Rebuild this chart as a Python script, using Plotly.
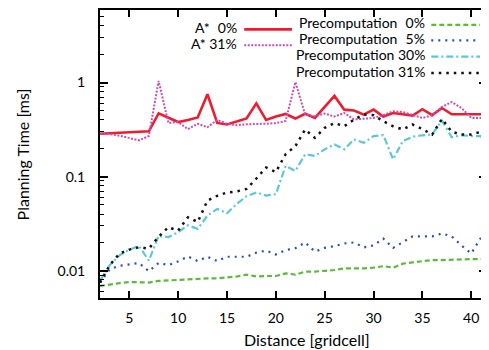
import math
import plotly.graph_objects as go

# ---------------- data ----------------
distance = [2, 3, 4, 5, 6, 7, 8, 9, 10, 11, 12, 13, 14, 15, 16, 17, 18, 19, 20, 21,
            22, 23, 24, 25, 26, 27, 28, 29, 30, 31, 32, 33, 34, 35, 36, 37, 38, 39, 40, 41, 42]

astar_0 = [0.285, 0.288, 0.291, 0.294, 0.298, 0.303, 0.47, 0.42, 0.38, 0.40, 0.425, 0.75,
           0.372, 0.358, 0.385, 0.415, 0.60, 0.40, 0.435, 0.463, 0.414, 0.466, 0.42, 0.55,
           0.72, 0.515, 0.505, 0.456, 0.515, 0.435, 0.474, 0.46, 0.445, 0.52, 0.45, 0.536,
           0.46, 0.46, 0.46, 0.46, 0.46]

astar_31 = [0.285, 0.283, 0.272, 0.255, 0.243, 0.27, 1.04, 0.372, 0.38, 0.32, 0.364, 0.335,
            0.40, 0.364, 0.352, 0.36, 0.36, 0.365, 0.37, 0.39, 1.01, 0.456, 0.438, 0.468,
            0.435, 0.474, 0.405, 0.41, 0.42, 0.45, 0.494, 0.486, 0.45, 0.42, 0.449, 0.55,
            0.62, 0.536, 0.42, 0.42, 0.42]

pre_0 = [0.0069, 0.0072, 0.0074, 0.0076, 0.0075, 0.0075, 0.0078, 0.0079, 0.0081, 0.0082,
         0.0083, 0.0083, 0.0083, 0.0085, 0.0087, 0.0091, 0.0087, 0.0088, 0.0088, 0.0094,
         0.0091, 0.0098, 0.0098, 0.0100, 0.0102, 0.0106, 0.0106, 0.0106, 0.0108, 0.0112,
         0.0108, 0.0119, 0.0123, 0.0126, 0.0130, 0.0130, 0.0130, 0.0132, 0.0133, 0.0133,
         0.0126]

pre_5 = [0.0075, 0.0104, 0.0113, 0.0118, 0.0121, 0.0099, 0.0121, 0.0115, 0.0126, 0.0142,
         0.0127, 0.0141, 0.0127, 0.0141, 0.0141, 0.0141, 0.0156, 0.0164, 0.0149, 0.0166,
         0.0174, 0.0200, 0.0160, 0.0175, 0.0183, 0.0195, 0.0200, 0.0177, 0.0186, 0.0220,
         0.0175, 0.0203, 0.0232, 0.0232, 0.0232, 0.0249, 0.0232, 0.0186, 0.0153, 0.0225,
         0.0180]

pre_30 = [0.0078, 0.0115, 0.0146, 0.0168, 0.0183, 0.0128, 0.0235, 0.0228, 0.0257, 0.0304,
          0.0279, 0.0386, 0.0454, 0.0408, 0.0513, 0.062, 0.068, 0.063, 0.065, 0.13,
          0.115, 0.173, 0.166, 0.195, 0.22, 0.195, 0.249, 0.229, 0.269, 0.276,
          0.153, 0.239, 0.265, 0.275, 0.28, 0.395, 0.262, 0.275, 0.27, 0.27,
          0.15]

pre_31 = [0.0075, 0.0115, 0.0152, 0.0168, 0.0178, 0.0172, 0.023, 0.029, 0.0267, 0.037,
          0.033, 0.0556, 0.0626, 0.0679, 0.0696, 0.074, 0.0955, 0.125, 0.112, 0.173,
          0.211, 0.317, 0.258, 0.33, 0.37, 0.343, 0.404, 0.456, 0.45, 0.388,
          0.343, 0.317, 0.358, 0.32, 0.28, 0.41, 0.30, 0.28, 0.28, 0.30,
          0.50]

x_tick_vals = [5, 10, 15, 20, 25, 30, 35, 40]
y_tick_vals = [0.01, 0.1, 1]
y_tick_text = ["0.01", "0.1", "1"]

# ---------------- geometry ----------------
# the page body adds an 8px margin, so the figure is 8px smaller and
# all reference pixel positions are shifted by OFF
OFF = 8
W, H = 489 - OFF, 350 - OFF
ML, MR, MT, MB = 100 - OFF, 0, 0, 52
PW, PH = W - ML - MR, H - MT - MB
PX_PER_UNIT = 9.82      # x pixels per gridcell (from reference ticks)
PX_PER_DECADE = 94.8    # y pixels per decade (from reference ticks)
Y1_PAGE = 81            # page y of the "1" tick
FONT = "Lato"

x_range = [2, 2 + PW / PX_PER_UNIT]
top_page, bottom_page = MT + OFF, H - MB + OFF
y_range = [-(bottom_page - Y1_PAGE) / PX_PER_DECADE, (Y1_PAGE - top_page) / PX_PER_DECADE]

series = [
    # name, data, color, dash, width, legend column, legend sample y (page px)
    ("A*  0%", astar_0, "#ee1c2e", "solid", 2.6, 0, 27.5),
    ("A* 31%", astar_31, "#c74fb8", "2px,1.5px", 2.0, 0, 43.5),
    ("Precomputation  0%", pre_0, "#5dbb3c", "5px,3px", 2.2, 1, 23.0),
    ("Precomputation  5%", pre_5, "#2e4fae", "2px,5px", 2.2, 1, 38.5),
    ("Precomputation 30%", pre_30, "#5bc8d8", "7px,3px,2px,3px", 2.2, 1, 55.0),
    ("Precomputation 31%", pre_31, "#111111", "2.5px,5px", 2.5, 1, 71.5),
]

fig = go.Figure()
for name, vals, color, dash, width, _, _ in series:
    fig.add_trace(go.Scatter(
        x=distance, y=vals, mode="lines", name=name,
        line=dict(color=color, dash=dash, width=width),
        showlegend=False, hoverinfo="skip",
    ))


def px_x(p):
    return (p - OFF - ML) / PW


def px_y(p):
    return (H - MB - (p - OFF)) / PH


# gnuplot-style key: text right-aligned, sample to its right
shapes = []
annotations = []
for name, _, color, dash, width, col, sy in series:
    text_right, s0, s1 = (240, 245, 293) if col == 0 else (429, 433, 482)
    shapes.append(dict(type="line", xref="paper", yref="paper",
                       x0=px_x(s0), x1=px_x(s1), y0=px_y(sy), y1=px_y(sy),
                       line=dict(color=color, dash=dash, width=width)))
    annotations.append(dict(text=name.replace("  ", "\u2007"), xref="paper", yref="paper",
                            x=px_x(text_right), y=px_y(sy - 2),
                            xanchor="right", yanchor="middle", showarrow=False,
                            font=dict(family=FONT, size=14, color="black")))

# axis titles
annotations.append(dict(text="Distance [gridcell]", xref="paper", yref="paper",
                        x=px_x(308), y=px_y(340), xanchor="center", yanchor="middle",
                        showarrow=False, font=dict(family=FONT, size=16, color="black")))
annotations.append(dict(text="Planning Time [ms]", xref="paper", yref="paper",
                        x=px_x(22), y=px_y(153), xanchor="center", yanchor="middle",
                        textangle=-90, showarrow=False,
                        font=dict(family=FONT, size=16, color="black")))

minor_vals = [m * 10.0 ** e for e in range(-3, 1) for m in range(2, 10)]

fig.update_layout(
    width=W, height=H,
    margin=dict(l=ML, r=MR, t=MT, b=MB, pad=0),
    plot_bgcolor="white", paper_bgcolor="white",
    font=dict(family=FONT, size=14, color="black"),
    showlegend=False,
    shapes=shapes,
    annotations=annotations,
    xaxis=dict(
        range=x_range, tickvals=x_tick_vals, ticks="inside", ticklen=7, tickwidth=1.5,
        tickcolor="black", showline=True, linewidth=2, linecolor="black",
        mirror="allticks", showgrid=False, zeroline=False,
        tickfont=dict(family=FONT, size=14), ticklabelstandoff=6,
    ),
    yaxis=dict(
        type="log", range=y_range,
        tickvals=y_tick_vals, ticktext=y_tick_text,
        ticks="inside", ticklen=8, tickwidth=1.5, tickcolor="black",
        minor=dict(tickvals=minor_vals, ticks="inside", ticklen=4, tickwidth=1,
                   tickcolor="black", showgrid=False),
        showline=True, linewidth=2, linecolor="black",
        mirror="allticks", showgrid=False, zeroline=False,
        tickfont=dict(family=FONT, size=14), ticklabelstandoff=10,
    ),
)

fig.write_html("out.html")
